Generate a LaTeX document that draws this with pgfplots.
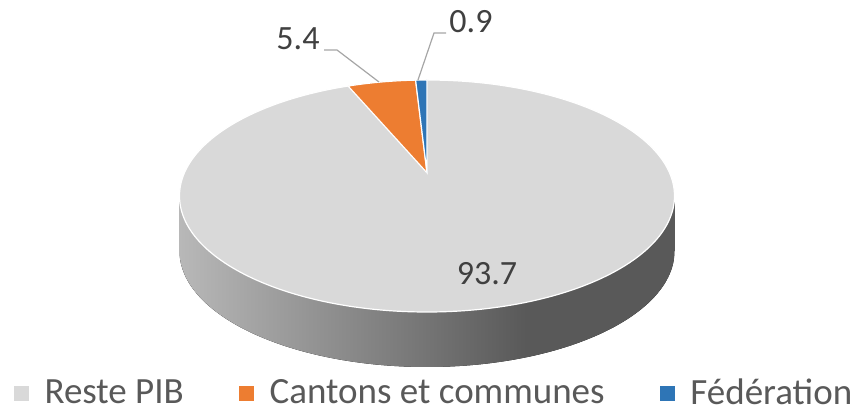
\documentclass[border=0pt]{standalone}
\usepackage{pgfplots}
\pgfplotsset{compat=1.18}
\usepackage{pgfplotstable}
\usepackage{fontspec}
\setmainfont{Carlito}
\usetikzlibrary{calc}
\definecolor{restec}{HTML}{D9D9D9}
\definecolor{cantc}{HTML}{ED7D31}
\definecolor{fedc}{HTML}{2E75B6}
\definecolor{labc}{HTML}{404040}
\definecolor{legc}{HTML}{595959}
\definecolor{leadc}{HTML}{A6A6A6}
\definecolor{sideL}{HTML}{B8B8B8}
\definecolor{sideD}{HTML}{595959}
\pgfdeclarehorizontalshading{sideshade}{100bp}{color(0bp)=(sideL); color(25bp)=(sideL); color(60bp)=(sideD); color(75bp)=(sideD); color(100bp)=(sideD)}

\pgfplotstableread{
label value
Reste 93.7
Cantons 5.4
Federation 0.9
}\piedata

\begin{document}
\begin{tikzpicture}
% read the shares
\pgfplotstablegetelem{0}{value}\of\piedata \let\va\pgfplotsretval
\pgfplotstablegetelem{1}{value}\of\piedata \let\vb\pgfplotsretval
\pgfplotstablegetelem{2}{value}\of\piedata \let\vc\pgfplotsretval
% true angles (clockwise from 12 o'clock)
\pgfmathsetmacro{\thA}{90-3.6*\va+360}   % start of Cantons
\pgfmathsetmacro{\thB}{\thA-3.6*\vb}      % start of Federation
\pgfmathsetmacro{\thC}{\thB-3.6*\vc}      % end (=90)
% perspective factor and ellipse parameter angles
\pgfmathsetmacro{\kk}{0.2}
\pgfmathsetmacro{\sq}{sqrt(1-\kk*\kk)}
\pgfmathsetmacro{\tA}{atan2(sin(\thA)+\kk,\sq*cos(\thA))}
\pgfmathsetmacro{\tB}{atan2(sin(\thB)+\kk,\sq*cos(\thB))}
\pgfmathsetmacro{\tC}{atan2(sin(\thC)+\kk,\sq*cos(\thC))}
\begin{axis}[
  scale only axis, width=426pt, height=206pt,
  xmin=0, xmax=852, ymin=0, ymax=412,
  hide axis, clip=false,
  legend image code/.code={\fill[#1] (0pt,-3.5pt) rectangle (7pt,3.5pt);},
  legend columns=3,
  legend style={at={(axis cs:433,4)}, anchor=south, draw=none, fill=none,
    font=\fontsize{18.5}{22}\selectfont, text=legc, inner sep=0pt,
    nodes={inner sep=0pt},
    /tikz/every odd column/.append style={column sep=8pt},
    /tikz/every even column/.append style={column sep=27.5pt}},
]
\addlegendimage{restec}
\addlegendentry{Reste PIB}
\addlegendimage{cantc}
\addlegendentry{Cantons et communes}
\addlegendimage{fedc}
\addlegendentry{Fédération}

% side of the pie
\fill[shading=sideshade] (axis cs:179.5,216) arc[start angle=180,end angle=360,x radius=123.75pt,y radius=58pt]
  -- ++(0,-27.5pt) arc[start angle=360,end angle=180,x radius=123.75pt,y radius=58pt] -- cycle;
% top face (Reste PIB)
\fill[restec, draw=white, line width=0.6pt] (axis cs:427,216) ellipse [x radius=123.75pt, y radius=58pt];
% Cantons et communes
\fill[cantc, draw=white, line width=0.6pt] (axis cs:427,239.2)
  -- ($(axis cs:427,216)+(\tA:123.75pt and 58pt)$)
  arc[start angle=\tA, end angle=\tB, x radius=123.75pt, y radius=58pt] -- cycle;
% Federation
\fill[fedc, draw=white, line width=0.6pt] (axis cs:427,239.2)
  -- ($(axis cs:427,216)+(\tB:123.75pt and 58pt)$)
  arc[start angle=\tB, end angle=\tC, x radius=123.75pt, y radius=58pt] -- cycle;

% leader lines
\draw[leadc, line width=0.6pt] (axis cs:324,362) -- (axis cs:337,362) -- (axis cs:379,330);
\draw[leadc, line width=0.6pt] (axis cs:446,379) -- (axis cs:434,379) -- (axis cs:418,332);
% data labels
\node[anchor=base, text=labc, font=\fontsize{17}{20}\selectfont, inner sep=0pt] at (axis cs:487,127) {93.7};
\node[anchor=base, text=labc, font=\fontsize{17}{20}\selectfont, inner sep=0pt] at (axis cs:298,362) {5.4};
\node[anchor=base, text=labc, font=\fontsize{17}{20}\selectfont, inner sep=0pt] at (axis cs:471,379) {0.9};
\end{axis}
\pgfresetboundingbox
\path (current axis.south west) rectangle (current axis.north east);
\end{tikzpicture}
\end{document}
